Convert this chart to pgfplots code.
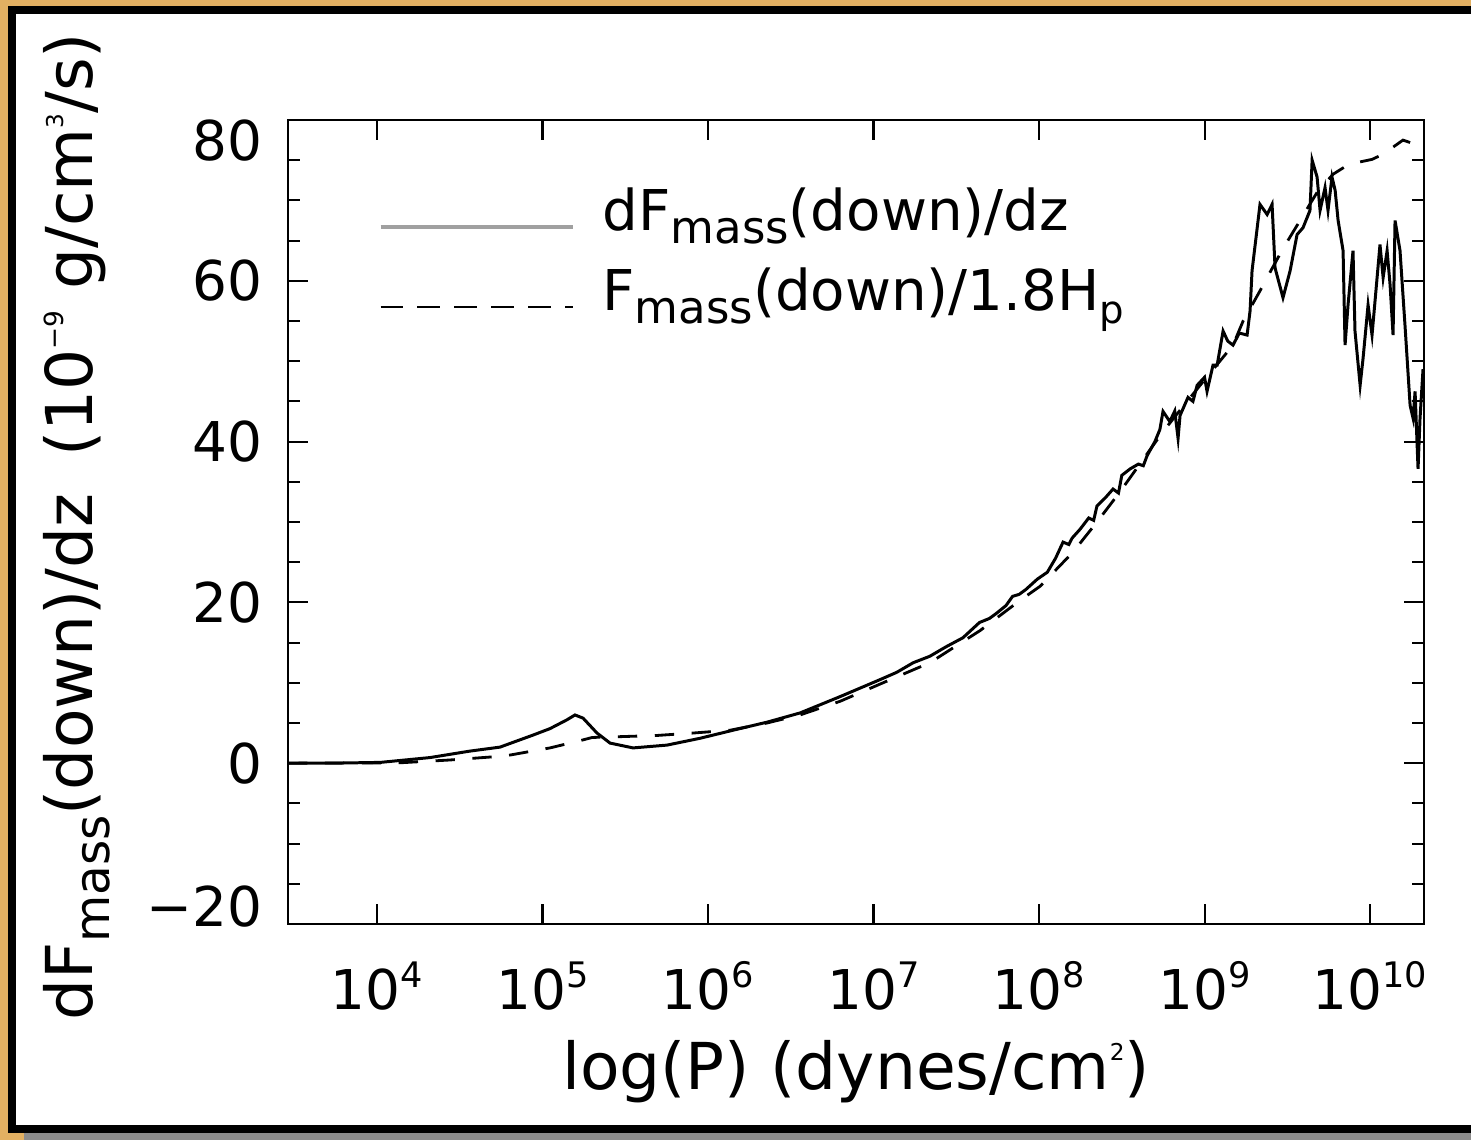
\documentclass[border=0pt]{standalone}
\usepackage{pgfplots}
\pgfplotsset{compat=1.18}
\usepackage{fontspec}
\setmainfont{DejaVu Sans}
\definecolor{bgorange}{RGB}{226,176,98}
\definecolor{bggray}{RGB}{140,140,140}
\definecolor{leggray}{RGB}{160,160,160}
\newcommand{\subtxt}[3]{\raisebox{-#2}{\fontsize{#1}{#1}\selectfont #3}}
\newcommand{\suptxt}[3]{\raisebox{#2}{\fontsize{#1}{#1}\selectfont #3}}
\newcommand{\ylab}[2]{\smash{\raisebox{-#1}{#2}}}
\pgfplotstableread{
lp val
3.462 0.0
3.72 0.0
4.02 0.1
4.32 0.7
4.56 1.5
4.743 2.0
4.943 3.5
5.045 4.3
5.148 5.4
5.196 6.0
5.245 5.6
5.329 3.75
5.408 2.5
5.547 1.9
5.752 2.25
5.952 3.1
6.151 4.1
6.356 5.1
6.556 6.25
6.80 8.3
7.04 10.4
7.14 11.3
7.24 12.5
7.34 13.3
7.44 14.5
7.54 15.6
7.64 17.5
7.70 18.0
7.74 18.6
7.80 19.6
7.84 20.75
7.88 21.0
7.92 21.6
7.99 22.9
8.05 23.75
8.10 25.5
8.145 27.5
8.18 27.2
8.20 28.0
8.248 29.1
8.30 30.5
8.33 30.2
8.35 32.0
8.40 33.0
8.447 34.1
8.48 33.6
8.50 35.8
8.55 36.6
8.60 37.2
8.63 37.0
8.653 38.25
8.70 40.0
8.73 41.5
8.749 43.75
8.79 42.5
8.82 43.8
8.84 40.4
8.852 43.25
8.90 45.5
8.93 45.0
8.955 47.0
9.00 48.0
9.015 46.25
9.051 49.5
9.076 49.5
9.112 53.75
9.14 52.5
9.172 52.0
9.21 53.5
9.257 53.25
9.275 56.25
9.287 61.25
9.335 69.5
9.378 68.25
9.408 69.5
9.426 61.6
9.474 57.9
9.517 61.25
9.559 65.75
9.595 66.6
9.637 68.75
9.650 75.0
9.680 72.9
9.698 68.75
9.728 71.6
9.746 68.75
9.770 72.9
9.789 71.25
9.807 67.5
9.837 63.75
9.849 52.0
9.867 57.0
9.897 63.75
9.909 53.75
9.940 47.0
9.958 50.4
9.988 57.0
10.012 53.25
10.060 64.5
10.079 60.4
10.103 63.75
10.121 59.5
10.139 53.25
10.151 67.5
10.181 63.75
10.211 54.5
10.242 44.5
10.260 42.9
10.272 46.25
10.290 36.6
10.302 42.9
10.320 49.0
}\solidtab
\pgfplotstableread{
lp val
3.462 0.0
4.139 0.05
4.441 0.4
4.773 0.9
5.045 1.9
5.245 2.9
5.30 3.2
5.468 3.3
5.692 3.45
5.909 3.75
6.133 4.1
6.356 5.0
6.556 6.0
6.798 7.7
7.142 10.75
7.341 12.5
7.644 16.5
7.885 20.25
8.006 22.0
8.205 26.25
8.350 30.0
8.489 33.75
8.749 41.25
8.973 47.0
9.172 52.0
9.233 55.0
9.335 58.75
9.378 60.4
9.474 64.0
9.577 67.5
9.680 71.0
9.776 73.25
9.873 74.5
10.012 75.1
10.079 75.75
10.199 77.5
10.284 76.9
10.31 76.3
}\dashtab
\begin{document}
\begin{tikzpicture}[x=1cm,y=1cm]
\useasboundingbox (0,0) rectangle (14.71,11.40);
\fill[bgorange] (0,0) rectangle (14.71,11.40);
\fill[bggray] (0.24,0) rectangle (14.71,0.07);
\fill[black] (0.08,0.07) rectangle (14.71,11.34);
\fill[white] (0.16,0.15) rectangle (14.71,11.26);
\begin{axis}[
  at={(2.88cm,2.16cm)}, anchor=south west, scale only axis,
  width=11.36cm, height=8.04cm,
  xmin=3.462, xmax=10.326, ymin=-20, ymax=80,
  xtick={4,5,6,7,8,9,10},
  xticklabel={\pgfmathtruncatemacro\e{\tick}10\suptxt{10}{6.5pt}{\e}},
  ytick={-20,0,20,40,60,80},
  yticklabels={\ylab{0.6pt}{−20},\ylab{5.7pt}{0},\ylab{5.7pt}{20},\ylab{5.7pt}{40},\ylab{5.7pt}{60},\ylab{11.4pt}{80}},
  minor y tick num=3,
  tick align=inside,
  major tick length=0.2cm, minor tick length=0.12cm,
  axis line style={line width=0.6pt},
  every tick/.style={black, line width=0.6pt},
  ticklabel style={font=\fontsize{15.6}{18}\selectfont},
  xticklabel style={anchor=base, inner sep=0pt, yshift=-0.86cm},
  yticklabel style={anchor=east, inner sep=0pt, xshift=-0.25cm},
  xlabel={log(P) (dynes/cm\suptxt{6.6}{8.5pt}{2})},
  xlabel style={font=\fontsize{18.4}{22}\selectfont, at={([yshift=-1.66cm]axis description cs:0.5,0)}, anchor=base},
  ylabel={dF\subtxt{13.8}{4.8pt}{mass}(down)/dz\hspace{0.25em} (10\suptxt{7.5}{8.5pt}{−9} g/cm\suptxt{6.6}{8.5pt}{3}/s)},
  ylabel style={font=\fontsize{18.4}{22}\selectfont, at={([xshift=-1.95cm,yshift=-0.05cm]axis description cs:0,0.5)}, anchor=base},
  legend style={at={(axis description cs:0.079,0.925)}, anchor=north west, draw=none, fill=none,
    font=\fontsize{16}{19}\selectfont, row sep=0pt, inner sep=0pt,
    nodes={inner sep=0pt, text height=0.5cm, text depth=0.3cm},
    /tikz/every odd column/.append style={column sep=0.28cm}},
  legend image code/.code={\draw[#1] (0cm,-0.06cm) -- (1.92cm,-0.06cm);},
  legend cell align=left,
]
\addlegendimage{leggray, line width=1.2pt}
\addlegendentry{dF\subtxt{12.8}{3.7pt}{mass}(down)/dz}
\addlegendimage{black, line width=0.8pt, dash pattern=on 6.5pt off 4pt}
\addlegendentry{F\subtxt{12.8}{3.7pt}{mass}(down)/1.8H\subtxt{11}{3.7pt}{p}}
\addplot[black, line width=0.85pt, forget plot] table[x=lp, y=val] {\solidtab};
\addplot[black, line width=0.8pt, dash pattern=on 5.5pt off 5pt, forget plot] table[x=lp, y=val] {\dashtab};
\end{axis}
\end{tikzpicture}
\end{document}
